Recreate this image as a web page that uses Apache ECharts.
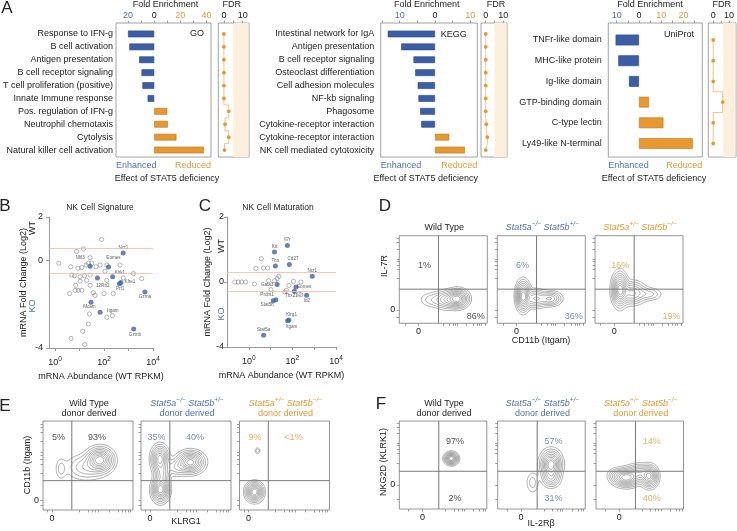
<!DOCTYPE html>
<html><head><meta charset="utf-8"><title>STAT5 NK figure</title>
<script src="https://cdn.jsdelivr.net/npm/echarts@6/dist/echarts.min.js"></script>
<style>html,body{margin:0;padding:0;background:#fff;}#chart{width:737px;height:531px;}</style>
</head><body><div id="chart"></div>
<script>
// ================= DATA =================
// Panel A - GO
const goTerms = ['Response to IFN-g','B cell activation','Antigen presentation','B cell receptor signaling','T cell proliferation (positive)','Innate Immune response','Pos. regulation of IFN-g','Neutrophil chemotaxis','Cytolysis','Natural killer cell activation'];
const goFold = [-20, -19, -11.5, -9.7, -9, -5, 10, 10.4, 17, 38];
const goFdr = [0, 0, 0, 0, 0, 0, 2.6, 0.6, 2.6, 0.3];
// Panel A - KEGG
const keggTerms = ['Intestinal network for IgA','Antigen presentation','B cell receptor signaling','Osteoclast differentiation','Cell adhesion molecules','NF-kb signaling','Phagosome','Cytokine-receptor interaction','Cytokine-receptor interaction','NK cell mediated cytotoxicity'];
const keggFold = [-13.4, -9.6, -6.1, -5.6, -4.9, -4.7, -4.2, -3.9, 4.05, 8.5];
const keggFdr = [0, 0, 0, 0, 0, 0, 0, 0.3, 0.9, 0];
// Panel A - UniProt
const uniTerms = ['TNFr-like domain','MHC-like protein','Ig-like domain','GTP-binding domain','C-type lectin','Ly49-like N-terminal'];
const uniFold = [-10.5, -9.3, -4.5, 4.5, 11, 24.2];
const uniFdr = [0, 0, 0, 6, 0, 0];
const fdrCutoff = 5;

// Panel B - NK cell signature (x = log10 WT RPKM, y = log2 fold change)
const bOpenLogRPKM = [1.90,0.15,0.88,1.16,1.43,0.64,0.93,1.09,1.27,1.36,1.50,1.67,1.84,2.11,2.65,2.04,0.68,0.79,1.02,1.20,1.43,2.11,2.79,3.20,3.54,0.84,1.02,1.29,1.43,0.59,0.82,0.95,1.09,1.56,1.63,2.00,2.38,1.40,2.11,2.34,1.36,1.13,0.65,1.21];
const bOpenLog2FC = [0.97,-0.12,0.42,0.54,0.14,-0.28,-0.35,-0.32,-0.20,-0.12,-0.12,-0.28,-0.20,-0.20,-0.20,-0.48,-0.66,-0.69,-0.74,-0.69,-0.66,-0.90,-0.79,-0.59,-0.82,-1.13,-0.94,-0.90,-1.13,-1.51,-1.36,-1.36,-1.36,-1.47,-1.59,-1.51,-1.51,-2.44,-2.59,-2.52,-2.90,-3.23,-3.56,-3.84];
const bGenes = ['Ncr1','Nfil3','Eomes','Klrk1','12Rb2','Klre1','Prf1','Gzma','Mcam','Itgam','Gzmb'];
const bGeneLogRPKM = [2.78,1.43,2.18,2.35,1.73,2.69,2.63,3.67,1.47,1.84,3.21];
const bGeneLog2FC = [0.35,-0.25,-0.29,-0.74,-0.79,-1.00,-1.06,-1.44,-1.90,-2.36,-3.13];

// Panel C - NK cell maturation
const cOpenLogRPKM = [-0.64,-0.48,-0.33,-0.14,0.26,0.33,0.57,0.68,0.87,0.91,1.02,1.19,1.38,1.30,1.66,1.72,1.84,2.05,2.39,2.31,2.39];
const cOpenLog2FC = [0,0,0,0,-0.12,0.84,1.44,0.86,0.86,0.08,-0.47,0.08,0.35,0.21,-0.62,-0.51,-0.21,0.04,0,-0.74,-0.78];
const cGenes = ['Il7r','Kit','Tbx','Cd27','Ncr1','Gata3','Eomes','Tbx21','Id2','Prdm1','Stat5b','Klrg1','Itgam','Stat5a'];
const cGeneLogRPKM = [1.77,1.18,1.22,1.86,2.91,1.30,2.16,2.09,2.65,1.24,1.12,1.84,1.78,0.68];
const cGeneLog2FC = [2.24,1.85,0.98,1.07,0.35,-0.16,-0.31,-0.57,-0.82,-1.09,-1.15,-2.34,-2.38,-3.28];
const foldThreshold = [0.585, -0.585];

// Panels D-F: quadrant percentages, gates, density blobs [cx, cy, sx, sy, weight]
const dPct = [['1%','86%'],['6%','36%'],['16%','19%']];
const ePct = [['5%','93%'],['35%','40%'],['9%','<1%']];
const fPct = [['97%','2%'],['57%','31%'],['14%','40%']];
const dGate = [1.05, 0.92];
const eGate = [0.66, 0.59];
const fGate = [0.70, 0.57];
const dBlobs = [
  [[2.05,0.5,0.28,0.2,1],[1.5,0.45,0.35,0.2,0.5],[0.7,0.45,0.35,0.18,0.12]],
  [[0.35,0.62,0.18,0.32,1],[1.0,0.5,0.3,0.2,0.45],[1.75,0.5,0.3,0.16,0.45]],
  [[0.3,0.9,0.2,0.36,1],[0.95,0.75,0.35,0.25,0.5],[1.8,0.7,0.35,0.15,0.18]]
];
const eBlobs = [
  [[1.6,1.22,0.22,0.18,1],[1.15,1.0,0.35,0.2,0.22],[0.3,0.95,0.1,0.18,0.1]],
  [[0.35,0.32,0.14,0.18,1],[0.33,1.25,0.14,0.2,0.8],[0.4,0.8,0.13,0.18,0.4],[1.35,1.15,0.22,0.16,0.95],[0.9,1.0,0.2,0.14,0.2]],
  [[0.2,0.25,0.14,0.14,1],[0.3,1.5,0.05,0.05,0.12]]
];
const fBlobs = [
  [[1.24,1.1,0.14,0.12,1]],
  [[1.3,0.85,0.22,0.28,1],[1.3,0.3,0.2,0.2,0.35],[0.5,0.1,0.15,0.25,0.1]],
  [[0.3,0.3,0.28,0.18,1],[1.3,0.35,0.18,0.22,0.9],[0.85,0.5,0.28,0.18,0.5],[-0.1,0.4,0.2,0.15,0.2]]
];

// ================= STYLE / LAYOUT =================
const FONT = "'Liberation Sans', Arial, Helvetica, sans-serif";
const INK = '#222';
const BLUE = '#3b5fa6', BLUE_EDGE = '#2a4580', ORANGE = '#e8982e', ORANGE_EDGE = '#b4762a';
const BLUE_TXT = '#4d72b6', ORANGE_TXT = '#e49a38';
const AXIS = '#8a8a8a';
const SHADE = '#fcefdc';
const CONTOUR_LEVELS = [0.03,0.07,0.13,0.21,0.31,0.43,0.56,0.7,0.84];

const option = {animation:false, backgroundColor:'#fff', textStyle:{fontFamily:FONT}, grid:[], xAxis:[], yAxis:[], series:[], graphic:[]};
const add = (k, o) => { option[k].push(o); return option[k].length - 1; };
function text(x, y, s, o) {
  o = o || {};
  const st = {text:s, fill:o.color||INK, fontSize:o.size||9, fontFamily:FONT, fontStyle:o.italic?'italic':'normal',
    align:o.align||'center', verticalAlign:'middle', textAlign:o.align||'center', textVerticalAlign:'middle'};
  if (o.rich) st.rich = o.rich;
  option.graphic.push({type:'text', x:x, y:y, rotation:o.rot||0, silent:true, z:10, style:st});
}

// Panel letters
text(7, 8, 'A', {size:17}); text(5, 206, 'B', {size:17}); text(205, 206, 'C', {size:17});
text(385, 206, 'D', {size:17}); text(5, 406, 'E', {size:17}); text(381, 404, 'F', {size:17});

// ---------- Panel A ----------
const A_PANELS = [
  {terms:goTerms, fold:goFold, fdr:goFdr, tag:'GO', box:[116,23,95,134], data:[27.5,129], xr:[-28,43.4],
   labels:[-20,0,20,40], ticks:[-20,-10,0,10,20,30,40], fdrBox:[218.3,30.7], fdrXr:[-3,13.4], labelMargin:4.5,
   titleX:165.5, fdrTitleX:231.7, effectX:167, tagX:204, tagY:34},
  {terms:keggTerms, fold:keggFold, fdr:keggFdr, tag:'KEGG', box:[380.7,23,96.6,134], data:[27.5,129], xr:[-15.4,12.0],
   labels:[-10,0,10], ticks:[-15,-10,-5,0,5,10], fdrBox:[481,26], fdrXr:[-2.7,12.1], labelMargin:6.5,
   titleX:426.7, fdrTitleX:496, effectX:425.7, tagX:466.7, tagY:34.5},
  {terms:uniTerms, fold:uniFold, fdr:uniFdr, tag:'UniProt', box:[608.3,23,94,134], data:[29.65,124.2], xr:[-13.8,28.5],
   labels:[-10,0,10,20], ticks:[-10,-5,0,5,10,15,20,25], fdrBox:[708.3,27.7], fdrXr:[-3.1,12.0], labelMargin:6.5,
   titleX:650, fdrTitleX:721.7, effectX:654, tagX:694, tagY:35}
];
A_PANELS.forEach(p => {
  const bl = p.box[0], bt = p.box[1], bw = p.box[2], bh = p.box[3];
  const gBox = add('grid', {left:bl, top:bt, width:bw, height:bh, show:true, borderColor:AXIS, borderWidth:0.8, backgroundColor:'transparent'});
  add('xAxis', {gridIndex:gBox, type:'value', show:false, min:p.xr[0], max:p.xr[1], axisLine:{onZero:false}});
  add('yAxis', {gridIndex:gBox, type:'value', show:false, min:0, max:1, axisLine:{onZero:false}});
  const gData = add('grid', {left:bl, top:p.data[0], width:bw, height:p.data[1]});
  const xi = add('xAxis', {gridIndex:gData, type:'value', position:'top', min:p.xr[0], max:p.xr[1], offset:p.data[0]-bt,
    axisLine:{show:false, onZero:false}, splitLine:{show:false},
    axisTick:{show:true, length:2.5, customValues:p.ticks, lineStyle:{color:AXIS, width:0.8}},
    axisLabel:{customValues:p.labels, fontSize:9, fontFamily:FONT, margin:3, formatter:v => String(Math.abs(v)),
      color:v => (+v < 0 ? BLUE_TXT : (+v > 0 ? ORANGE_TXT : INK))}});
  const yi = add('yAxis', {gridIndex:gData, type:'category', data:p.terms, dedplication:false, inverse:true,
    axisLine:{show:false, onZero:false}, axisTick:{show:false}, splitLine:{show:false},
    axisLabel:{interval:0, fontSize:9, fontFamily:FONT, color:INK, margin:p.labelMargin}});
  add('series', {type:'bar', xAxisIndex:xi, yAxisIndex:yi, barWidth:'52%', silent:true,
    data:p.fold.map(v => ({value:v, itemStyle:{color:v < 0 ? BLUE : ORANGE, borderColor:v < 0 ? BLUE_EDGE : ORANGE_EDGE, borderWidth:0.6}}))});
  // FDR
  const fl = p.fdrBox[0], fw = p.fdrBox[1];
  const gfBox = add('grid', {left:fl, top:bt, width:fw, height:bh, show:true, borderColor:AXIS, borderWidth:0.8, backgroundColor:'transparent'});
  const fbx = add('xAxis', {gridIndex:gfBox, type:'value', show:false, min:p.fdrXr[0], max:p.fdrXr[1], axisLine:{onZero:false}});
  const fby = add('yAxis', {gridIndex:gfBox, type:'value', show:false, min:0, max:1, axisLine:{onZero:false}});
  add('series', {type:'line', xAxisIndex:fbx, yAxisIndex:fby, data:[[0,0.5]], symbol:'none', lineStyle:{opacity:0}, silent:true, z:1,
    markArea:{silent:true, itemStyle:{color:SHADE}, data:[[{xAxis:fdrCutoff},{xAxis:p.fdrXr[1]-0.25}]]}});
  const gf = add('grid', {left:fl, top:p.data[0], width:fw, height:p.data[1]});
  const fxi = add('xAxis', {gridIndex:gf, type:'value', position:'top', min:p.fdrXr[0], max:p.fdrXr[1], offset:p.data[0]-bt,
    axisLine:{show:false, onZero:false}, splitLine:{show:false},
    axisTick:{show:true, length:2.5, customValues:[0,5,10], lineStyle:{color:AXIS, width:0.8}},
    axisLabel:{customValues:[0,10], fontSize:9, fontFamily:FONT, margin:3, color:INK}});
  const fyi = add('yAxis', {gridIndex:gf, type:'category', data:p.terms, dedplication:false, inverse:true, show:false});
  add('series', {type:'line', xAxisIndex:fxi, yAxisIndex:fyi, data:p.fdr, step:'middle', symbol:'circle', symbolSize:3.8,
    silent:true, z:3, itemStyle:{color:ORANGE}, lineStyle:{color:'#eeb46a', width:0.8}});
  // texts
  text(p.titleX, 5, 'Fold Enrichment');
  text(p.fdrTitleX, 5, 'FDR');
  text(bl, 166, 'Enhanced', {align:'left', color:BLUE_TXT});
  text(bl + bw, 166, 'Reduced', {align:'right', color:ORANGE_TXT});
  text(p.effectX, 178.5, 'Effect of STAT5 deficiency');
  text(p.tagX, p.tagY, p.tag, {align:'right'});
});

// ---------- Panels B & C ----------
const bLabelOffset = {Ncr1:[0.3,-5.7], Nfil3:[-10,-8.3], Eomes:[5,-9.3], Klrk1:[7.3,-4], '12Rb2':[5.3,8], Klre1:[9,-0.7],
  Prf1:[0.7,5.3], Gzma:[0,5], Mcam:[-1.7,5], Itgam:[12.7,-1.3], Gzmb:[1.3,5.3]};
const cLabelOffset = {Il7r:[0,-6], Kit:[0,-5.7], Tbx:[0,-5.3], Cd27:[3.7,-5.7], Ncr1:[0,-5.3], Gata3:[-10,0], Eomes:[8.3,0],
  Tbx21:[-3,4.3], Id2:[0.3,5.3], Prdm1:[-8.7,-5], Stat5b:[-6,4], Klrg1:[2.7,-5.3], Itgam:[4,5.7], Stat5a:[0,-6]};
const SC = [
  {grid:{left:49, top:217, width:104, height:131}, xr:[-0.25,4], yr:[-4,2], yLabels:[-4,0,2], yFmt:v => String(v),
   ox:bOpenLogRPKM, oy:bOpenLog2FC, genes:bGenes, gx:bGeneLogRPKM, gy:bGeneLog2FC, place:bLabelOffset,
   title:'NK Cell Signature', titleX:100, yNameGap:21, yLabelMargin:6, wtX:33, wtY:228, koY:306},
  {grid:{left:227, top:217, width:109, height:130}, xr:[-1,4], yr:[-4,4], yLabels:[-4,0,4], yFmt:v => (+v === 4 ? '2' : String(v)),
   ox:cOpenLogRPKM, oy:cOpenLog2FC, genes:cGenes, gx:cGeneLogRPKM, gy:cGeneLog2FC, place:cLabelOffset,
   title:'NK Cell Maturation', titleX:278, yNameGap:9, yLabelMargin:3, wtX:222, wtY:246, koY:314}
];
SC.forEach(s => {
  const g = add('grid', s.grid);
  const xi = add('xAxis', {gridIndex:g, type:'value', min:s.xr[0], max:s.xr[1],
    axisLine:{show:true, onZero:false, lineStyle:{color:'#999', width:1}}, splitLine:{show:false},
    axisTick:{show:true, length:3, customValues:[0,1,2,3,4], lineStyle:{color:'#999'}},
    axisLabel:{customValues:[0,2,4], margin:8, color:INK, formatter:v => '{b|10}{e|' + v + '}',
      rich:{b:{fontSize:9, fontFamily:FONT, color:INK}, e:{fontSize:6.5, fontFamily:FONT, color:INK, padding:[0,0,6,0]}}},
    name:'mRNA Abundance (WT RPKM)', nameLocation:'middle', nameGap:24.5, nameTextStyle:{fontSize:9, fontFamily:FONT, color:INK}});
  const yi = add('yAxis', {gridIndex:g, type:'value', min:s.yr[0], max:s.yr[1],
    axisLine:{show:true, onZero:false, lineStyle:{color:'#999', width:1}}, splitLine:{show:false},
    axisTick:{show:true, length:3, customValues:s.yLabels, lineStyle:{color:'#999'}},
    axisLabel:{customValues:s.yLabels, margin:s.yLabelMargin, fontSize:9, fontFamily:FONT, color:INK, formatter:s.yFmt},
    name:'mRNA Fold Change (Log2)', nameLocation:'middle', nameGap:s.yNameGap, nameTextStyle:{fontSize:9, fontFamily:FONT, color:INK}});
  add('series', {type:'scatter', xAxisIndex:xi, yAxisIndex:yi, silent:true, symbol:'circle', symbolSize:4.2, z:2,
    data:s.ox.map((x, i) => [x, s.oy[i]]),
    itemStyle:{color:'rgba(255,255,255,0)', borderColor:'#666', borderWidth:0.6},
    markLine:{silent:true, symbol:['none','none'], label:{show:false}, lineStyle:{color:'#f2b9aa', width:0.8, type:'solid'},
      data:foldThreshold.map(t => ({yAxis:t}))}});
  add('series', {type:'scatter', xAxisIndex:xi, yAxisIndex:yi, silent:true, symbol:'circle', symbolSize:5, z:4,
    data:s.genes.map((n, i) => ({name:n, value:[s.gx[i], s.gy[i]], label:{offset:s.place[n] || [0,-6]}})),
    itemStyle:{color:'#3d63ab'},
    label:{show:true, position:'inside', formatter:'{b}', fontSize:4.6, fontFamily:FONT, color:'#333'}});
  text(s.titleX, 208, s.title, {size:8.5});
  text(s.wtX, s.wtY, 'WT', {rot:Math.PI/2});
  text(s.wtX, s.koY, 'KO', {rot:Math.PI/2, color:BLUE_TXT});
});

// ---------- Panels D, E, F (contour flow plots) ----------
function contourSegments(blobs, xr, yr, levels, n) {
  const dx = (xr[1]-xr[0])/n, dy = (yr[1]-yr[0])/n;
  const f = []; let max = 0;
  for (let j = 0; j <= n; j++) {
    const row = []; const y = yr[0] + j*dy;
    for (let i = 0; i <= n; i++) {
      const x = xr[0] + i*dx; let v = 0;
      for (const b of blobs) { const ux = (x-b[0])/b[2], uy = (y-b[1])/b[3]; v += b[4]*Math.exp(-0.5*(ux*ux+uy*uy)); }
      row.push(v); if (v > max) max = v;
    }
    f.push(row);
  }
  const segs = [];
  for (const lv of levels) {
    const t = lv*max;
    for (let j = 0; j < n; j++) for (let i = 0; i < n; i++) {
      const v0 = f[j][i], v1 = f[j][i+1], v2 = f[j+1][i+1], v3 = f[j+1][i];
      const x0 = xr[0]+i*dx, y0 = yr[0]+j*dy;
      const p0 = [x0,y0], p1 = [x0+dx,y0], p2 = [x0+dx,y0+dy], p3 = [x0,y0+dy];
      const pts = [];
      const edge = (a, b, pa, pb) => { if ((a >= t) !== (b >= t)) { const k = (t-a)/(b-a); pts.push([pa[0]+(pb[0]-pa[0])*k, pa[1]+(pb[1]-pa[1])*k]); } };
      edge(v0,v1,p0,p1); edge(v1,v2,p1,p2); edge(v2,v3,p2,p3); edge(v3,v0,p3,p0);
      if (pts.length === 2) segs.push(pts);
      else if (pts.length === 4) { segs.push([pts[0],pts[1]]); segs.push([pts[2],pts[3]]); }
    }
  }
  return segs;
}
const BLUE_TITLE = '{i|Stat5a}{s|−/−} {i|Stat5b}{s|+/−}';
const ORANGE_TITLE = '{i|Stat5a}{s|+/−} {i|Stat5b}{s|−/−}';
const richFor = c => ({i:{fontStyle:'italic', fontSize:9, fontFamily:FONT, fill:c}, s:{fontStyle:'italic', fontSize:6.5, fontFamily:FONT, fill:c, padding:[0,0,7,0]}});
const FLOW = [
  {boxes:[[399.3,235.7],[497.3,235.7],[595,235.7]], size:[88,87.6], xr:[-1,3.6], yr:[-0.6,3.3], gate:dGate, blobs:dBlobs, pct:dPct,
   pctPos:[[0.32,1.96],[3.0,-0.31]], titleY:[227.3], donor:false,
   xTicks:[-0.7,0,1.3,1.6,1.8,1.95,2.05,2.5,2.85,3.05,3.2,3.3,3.5], yTicks:[-0.35,0,1.4,1.8,2.0,2.15,2.25,2.7,3.0,3.2]},
  {boxes:[[43,421],[141,421],[239.5,421]], size:[90,89], xr:[-0.3,2.7], yr:[-0.3,2.4], gate:eGate, blobs:eBlobs, pct:ePct,
   pctPos:[[0.22,1.9],[1.5,1.9]], titleY:[403.3,413.3], donor:true,
   xTicks:[-0.15,0,0.9,1.2,1.35,1.45,1.55,1.9,2.2,2.35,2.45,2.55,2.62], yTicks:[-0.15,0,0.8,1.1,1.25,1.35,1.45,1.8,2.05,2.2,2.3]},
  {boxes:[[399.3,421],[497.7,421],[596,421]], size:[87.5,88], xr:[-1,2.77], yr:[-1,2.66], gate:fGate, blobs:fBlobs, pct:fPct,
   pctPos:[[1.4,1.8],[1.4,-0.58]], titleY:[403.3,413.3], donor:true,
   xTicks:[-0.6,0,1.0,1.35,1.55,1.7,1.8,2.2,2.45,2.6,2.7], yTicks:[-0.6,0,0.9,1.3,1.5,1.65,1.75,2.15,2.4,2.55]}
];
const PCT_COLORS = [INK, BLUE_TXT, ORANGE_TXT];
FLOW.forEach(P => {
  P.boxes.forEach((b, k) => {
    const g = add('grid', {left:b[0], top:b[1], width:P.size[0], height:P.size[1], show:true, borderColor:'#7a7a7a', borderWidth:0.8, backgroundColor:'transparent'});
    const xi = add('xAxis', {gridIndex:g, type:'value', min:P.xr[0], max:P.xr[1], axisLine:{show:false, onZero:false}, splitLine:{show:false},
      axisTick:{show:true, length:2.5, customValues:P.xTicks, lineStyle:{color:'#777', width:0.7}},
      axisLabel:{customValues:[0], fontSize:9, fontFamily:FONT, color:INK, margin:4}});
    const yi = add('yAxis', {gridIndex:g, type:'value', min:P.yr[0], max:P.yr[1], axisLine:{show:false, onZero:false}, splitLine:{show:false},
      axisTick:{show:true, length:2.5, customValues:P.yTicks, lineStyle:{color:'#777', width:0.7}},
      axisLabel:{show:k === 0, customValues:[0], fontSize:9, fontFamily:FONT, color:INK, margin:4}});
    const segs = contourSegments(P.blobs[k], P.xr, P.yr, CONTOUR_LEVELS, 90);
    add('series', {type:'custom', xAxisIndex:xi, yAxisIndex:yi, silent:true, z:2, data:[[P.xr[0], P.yr[0]]],
      renderItem:(params, api) => {
        let d = '';
        for (const s of segs) { const a = api.coord(s[0]), c = api.coord(s[1]);
          d += 'M' + a[0].toFixed(2) + ' ' + a[1].toFixed(2) + 'L' + c[0].toFixed(2) + ' ' + c[1].toFixed(2); }
        return {type:'path', shape:{pathData:d}, style:{fill:null, stroke:'#6e6e6e', lineWidth:0.55}};
      }});
    const gateStyle = {color:'#7a7a7a', width:1};
    add('series', {type:'line', xAxisIndex:xi, yAxisIndex:yi, silent:true, symbol:'none', z:3, lineStyle:gateStyle,
      data:[[P.gate[0], P.yr[0]],[P.gate[0], P.yr[1]]]});
    add('series', {type:'line', xAxisIndex:xi, yAxisIndex:yi, silent:true, symbol:'none', z:3, lineStyle:gateStyle,
      data:[[P.xr[0], P.gate[1]],[P.xr[1], P.gate[1]]]});
    add('series', {type:'scatter', xAxisIndex:xi, yAxisIndex:yi, silent:true, symbolSize:0, z:4,
      data:P.pct[k].map((t, m) => ({name:t, value:P.pctPos[m]})),
      label:{show:true, position:'inside', formatter:'{b}', fontSize:9, fontFamily:FONT, color:PCT_COLORS[k]}});
    // titles
    const cx = b[0] + P.size[0]/2 + 1;
    const col = PCT_COLORS[k];
    if (k === 0) text(cx, P.titleY[0], 'Wild Type');
    else text(cx, P.titleY[0], k === 1 ? BLUE_TITLE : ORANGE_TITLE, {rich:richFor(col), color:col});
    if (P.donor) text(cx, P.titleY[1], 'donor derived', {color:col});
  });
});
// flow axis names
text(385, 266, 'IL-7R', {rot:Math.PI/2});
text(541, 341, 'CD11b (Itgam)');
text(28, 465, 'CD11b (Itgam)', {rot:Math.PI/2});
text(186, 522, 'KLRG1');
text(384, 462, 'NKG2D (KLRK1)', {rot:Math.PI/2});
text(541, 524, 'IL-2Rβ');

const chart = echarts.init(document.getElementById('chart'), null, {renderer:'canvas'});
chart.setOption(option);
</script></body></html>
